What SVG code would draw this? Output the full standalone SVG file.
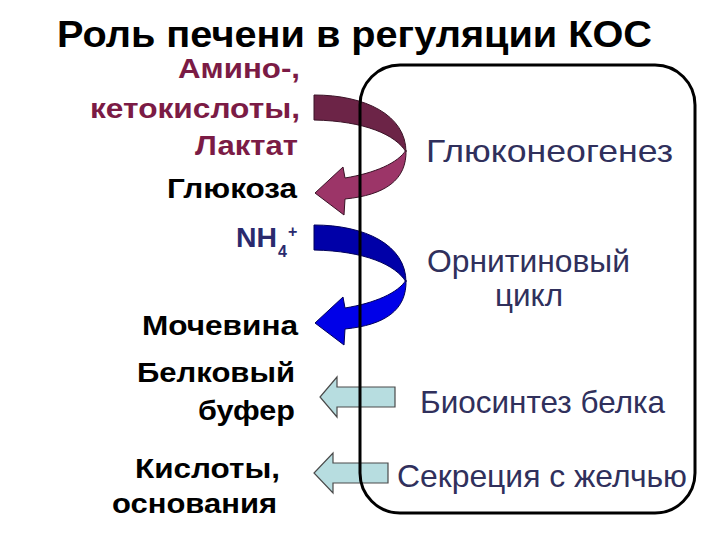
<svg xmlns="http://www.w3.org/2000/svg" width="720" height="540" viewBox="0 0 720 540">
<style>
.title{font-family:"Liberation Sans",Arial,sans-serif;font-weight:bold;font-size:37px;fill:#000}
.lb{font-family:"Liberation Sans",Arial,sans-serif;font-weight:bold;font-size:28px;fill:#000}
.mar{fill:#7b1b45}
.nav{fill:#2a2a6e}
.rt{font-family:"Liberation Sans",Arial,sans-serif;font-size:32px;fill:#30305c}
.pd{fill:#6c2447;stroke:#3a1226;stroke-width:1}
.pl{fill:#9c3568;stroke:#3a1226;stroke-width:1}
.bd{fill:#0000a8;stroke:#00005a;stroke-width:1}
.bl{fill:#0000e8;stroke:#00005a;stroke-width:1}
.sa{fill:#b7dde0;stroke:#4a4a4a;stroke-width:1.2}
.box{fill:none;stroke:#000;stroke-width:3}
</style>
<rect width="720" height="540" fill="#fff"/>
<text class="title" x="57" y="47" textLength="595" lengthAdjust="spacingAndGlyphs">Роль печени в регуляции КОС</text>

<g id="connectors">
  <g id="arrow-gluco">
    <path class="pd" d="M314,95 C365,95 406,115 406,152 C396,135 365,121 314,120 Z"/>
    <path class="pl" d="M406,150 C407,180 385,195 345,199 L344,215 L315,193 L343,167 L345,178 C375,173 398,163 406,150 Z"/>
  </g>
  <g id="arrow-urea" transform="translate(0,130)">
    <path class="bd" d="M314,95 C365,95 406,115 406,152 C396,135 365,121 314,120 Z"/>
    <path class="bl" d="M406,150 C407,180 385,195 345,199 L344,215 L315,193 L343,167 L345,178 C375,173 398,163 406,150 Z"/>
  </g>
  <path id="arrow-protein" class="sa" d="M395,387 L337,387 L337,377 L320,397 L337,417 L337,407 L395,407 Z"/>
  <path id="arrow-bile" class="sa" d="M388,463 L333,463 L333,453 L314,473 L333,493 L333,483 L388,483 Z"/>
</g>

<g id="liver">
  <rect class="box" x="360" y="65" width="335" height="448" rx="40" ry="40"/>
  <text class="rt" x="426" y="162" textLength="247" lengthAdjust="spacingAndGlyphs">Глюконеогенез</text>
  <text class="rt" x="427" y="272" textLength="203" lengthAdjust="spacingAndGlyphs">Орнитиновый</text>
  <text class="rt" x="495" y="306" textLength="68" lengthAdjust="spacingAndGlyphs">цикл</text>
  <text class="rt" x="420" y="413" textLength="245" lengthAdjust="spacingAndGlyphs">Биосинтез белка</text>
  <text class="rt" x="397" y="487" textLength="290" lengthAdjust="spacingAndGlyphs">Секреция с желчью</text>
</g>

<g id="substrates">
  <text class="lb mar" x="178" y="78" textLength="122" lengthAdjust="spacingAndGlyphs">Амино-,</text>
  <text class="lb mar" x="90" y="118" textLength="210" lengthAdjust="spacingAndGlyphs">кетокислоты,</text>
  <text class="lb mar" x="195" y="155" textLength="103" lengthAdjust="spacingAndGlyphs">Лактат</text>
</g>
<g id="glucose"><text class="lb" x="167" y="198" textLength="130" lengthAdjust="spacingAndGlyphs">Глюкоза</text></g>
<g id="ammonium">
  <text class="lb nav" x="236" y="247" textLength="41" lengthAdjust="spacingAndGlyphs">NH</text>
  <text class="lb nav" x="278" y="257" style="font-size:16px">4</text>
  <text class="lb nav" x="288" y="237" style="font-size:16px">+</text>
</g>
<g id="urea"><text class="lb" x="142" y="335" textLength="156" lengthAdjust="spacingAndGlyphs">Мочевина</text></g>
<g id="buffer">
  <text class="lb" x="137" y="382" textLength="158" lengthAdjust="spacingAndGlyphs">Белковый</text>
  <text class="lb" x="198" y="420" textLength="97" lengthAdjust="spacingAndGlyphs">буфер</text>
</g>
<g id="acids">
  <text class="lb" x="135" y="478" textLength="145" lengthAdjust="spacingAndGlyphs">Кислоты,</text>
  <text class="lb" x="112" y="513" textLength="165" lengthAdjust="spacingAndGlyphs">основания</text>
</g>
</svg>
